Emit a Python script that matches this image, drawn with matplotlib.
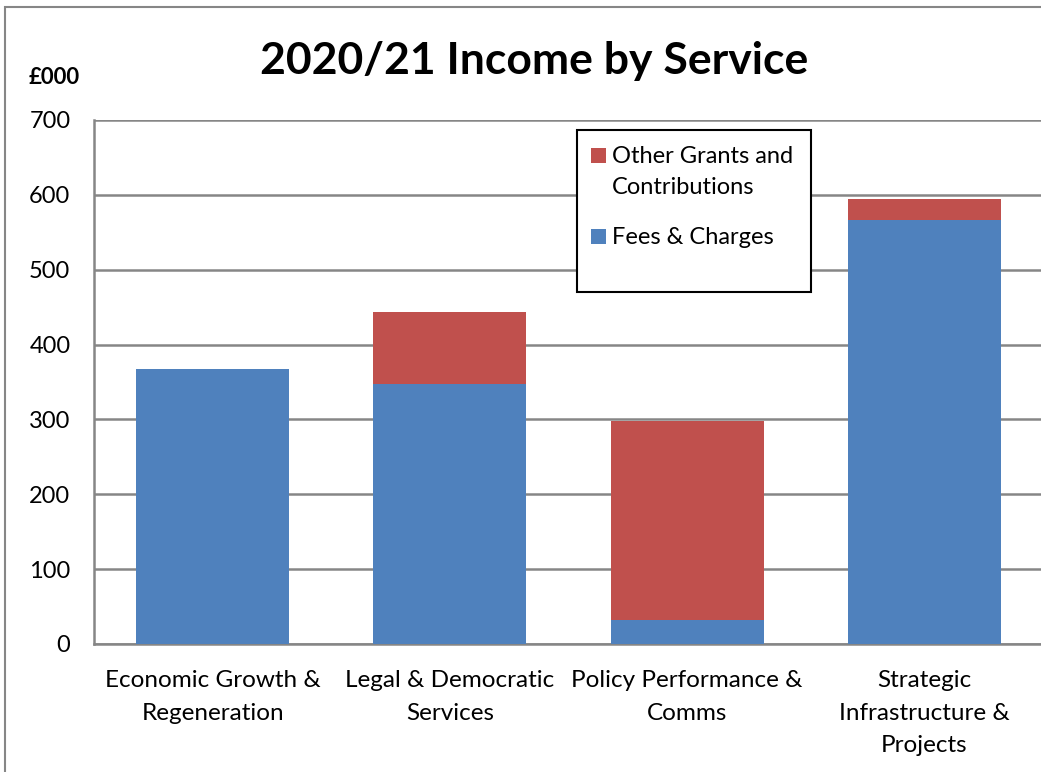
import matplotlib
matplotlib.use("Agg")
import matplotlib.pyplot as plt
from matplotlib.patches import Rectangle

categories = [
    "Economic Growth &\nRegeneration",
    "Legal & Democratic\nServices",
    "Policy Performance &\nComms",
    "Strategic\nInfrastructure &\nProjects",
]
fees_charges = [367, 347, 32, 566]
other_grants = [0, 96, 266, 29]
y_ticks = [0, 100, 200, 300, 400, 500, 600, 700]
series_names = ["Other Grants and\nContributions", "Fees & Charges"]

BLUE = "#4F81BD"
RED = "#C0504D"
GRID = "#868686"

plt.rcParams["font.family"] = ["Lato", "DejaVu Sans"]

W, H = 1041, 772
fig = plt.figure(figsize=(W / 100, H / 100), dpi=100)


def fx(px):
    return px / W


def fy(py):
    return 1 - py / H


# outer chart border
fig.patches.append(Rectangle((fx(5), -0.1), 1.2, fy(7) + 0.1, transform=fig.transFigure,
                             fill=False, edgecolor=GRID, linewidth=1.5))

ax = fig.add_axes([fx(94), fy(644), (1043 - 94) / W, (644 - 120) / H])
x = range(len(categories))
ax.bar(x, fees_charges, width=0.645, color=BLUE, zorder=3)
ax.bar(x, other_grants, bottom=fees_charges, width=0.645, color=RED, zorder=3)

ax.set_xlim(-0.5, 3.5)
ax.set_ylim(0, 700)
ax.set_yticks(y_ticks)
ax.set_yticklabels([str(v) for v in y_ticks], fontsize=17)
ax.set_xticks(list(x))
ax.set_xticklabels(categories, fontsize=17.5, linespacing=1.66)
ax.tick_params(axis="both", length=0, colors="black")
ax.tick_params(axis="y", pad=17)
ax.tick_params(axis="x", pad=19)
ax.yaxis.grid(True, color=GRID, linewidth=1.8, zorder=0)
ax.set_axisbelow(True)
for side in ("top", "right"):
    ax.spines[side].set_visible(False)
for side in ("left", "bottom"):
    ax.spines[side].set_color(GRID)
    ax.spines[side].set_linewidth(1.8)

fig.text(fx(534), fy(61), "2020/21 Income by Service", ha="center", va="center",
         fontsize=32, fontweight="bold")
fig.text(fx(54), fy(77), "£000", ha="center", va="center",
         fontsize=16, fontweight="bold")

# legend: framed box with swatches aligned to the first text line
fig.patches.append(Rectangle((fx(577), fy(292)), (811 - 577) / W, (292 - 130) / H,
                             transform=fig.transFigure, facecolor="white",
                             edgecolor="black", linewidth=1.5, zorder=5))
for color, name, top in zip([RED, BLUE], series_names, [148, 229]):
    fig.patches.append(Rectangle((fx(591), fy(top + 15)), 15 / W, 15 / H,
                                 transform=fig.transFigure, facecolor=color,
                                 edgecolor="none", zorder=6))
    fig.text(fx(612), fy(top - 2), name, ha="left", va="top", fontsize=17,
             linespacing=1.6, zorder=7)

fig.savefig("out.png", dpi=100)
